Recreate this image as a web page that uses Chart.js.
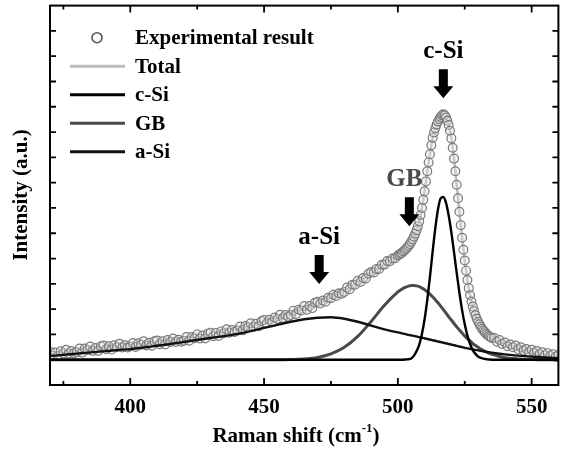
<!DOCTYPE html>
<html><head><meta charset="utf-8">
<script src="https://cdn.jsdelivr.net/npm/chart.js@4.4.1/dist/chart.umd.min.js"></script>
<style>html,body{margin:0;padding:0;background:#fff;}canvas{display:block;}</style>
</head><body>
<canvas id="c" width="564" height="452"></canvas>
<script>
// ---- data (Raman shift in cm^-1, intensity in a.u.) ----
const ramanShiftExp = [
370,371,372,373,374,375,376,377,378,379,380,381,382,383,384,385,386,387,388,389,
390,391,392,393,394,395,396,397,398,399,400,401,402,403,404,405,406,407,408,409,
410,411,412,413,414,415,416,417,418,419,420,421,422,423,424,425,426,427,428,429,
430,431,432,433,434,435,436,437,438,439,440,441,442,443,444,445,446,447,448,449,
450,451,452,453,454,455,456,457,458,459,460,461,462,463,464,465,466,467,468,469,
470,471,472,473,474,475,476,477,478,479,480,481,482,483,484,485,486,487,488,489,
490,491,492,493,494,495,496,497,498,499,500,
500.5,501,501.5,502,502.5,503,503.5,504,504.5,505,
505.5,506,506.5,507,507.5,508,508.5,509,509.5,510,
510.5,511,511.5,512,512.5,513,513.5,514,514.5,515,
515.5,516,516.5,517,517.5,518,518.5,519,519.5,520,
520.5,521,521.5,522,522.5,523,523.5,524,524.5,525,
525.5,526,526.5,527,527.5,528,528.5,529,529.5,530,
530.5,531,531.5,532,532.5,533,533.5,534,534.5,535,
536,537,538,539,540,541,542,543,544,545,546,547,548,549,550,551,552,553,554,555,
556,557,558,559,560];
const intensityExp = [
1.31,1.16,1.28,1.15,1.33,1.25,1.39,1.25,1.34,1.26,
1.30,1.44,1.28,1.44,1.38,1.52,1.35,1.46,1.35,1.53,
1.56,1.41,1.53,1.40,1.57,1.49,1.63,1.48,1.57,1.48,
1.52,1.66,1.50,1.65,1.59,1.73,1.56,1.67,1.55,1.73,
1.76,1.61,1.73,1.60,1.78,1.70,1.84,1.70,1.79,1.71,
1.75,1.90,1.75,1.90,1.85,2.00,1.84,1.96,1.84,2.03,
2.07,1.93,2.06,1.94,2.12,2.05,2.20,2.07,2.17,2.10,
2.15,2.31,2.16,2.33,2.28,2.44,2.29,2.42,2.32,2.52,
2.57,2.44,2.58,2.48,2.67,2.61,2.78,2.65,2.77,2.70,
2.77,2.94,2.81,2.98,2.95,3.12,2.98,3.12,3.04,3.25,
3.29,3.22,3.34,3.29,3.45,3.43,3.57,3.52,3.63,3.61,
3.68,3.85,3.79,3.96,3.96,4.12,4.07,4.23,4.21,4.40,
4.47,4.45,4.59,4.59,4.75,4.76,4.90,4.89,5.00,5.01,5.12,
5.15,5.20,5.22,5.28,5.32,5.38,5.43,5.50,5.57,5.66,
5.75,5.86,5.98,6.12,6.28,6.47,6.72,7.00,7.32,7.66,
8.05,8.45,8.80,9.12,9.48,9.78,9.98,10.15,10.30,10.42,
10.52,10.60,10.66,10.70,10.66,10.58,10.45,10.28,10.05,9.75,
9.38,8.95,8.45,7.92,7.38,6.85,6.32,5.82,5.35,4.92,
4.52,4.15,3.83,3.55,3.30,3.10,2.92,2.76,2.62,2.50,
2.40,2.30,2.22,2.15,2.09,2.03,1.98,1.94,1.90,1.86,
1.86,1.71,1.78,1.62,1.68,1.53,1.60,1.49,1.56,1.41,
1.49,1.36,1.42,1.29,1.39,1.27,1.34,1.21,1.29,1.18,
1.26,1.15,1.22,1.11,1.19];

const ramanShiftFit = [
370,375,380,385,390,395,400,405,410,415,420,425,430,435,440,445,450,455,460,465,470,475,480,485,490,495,500,
501,502,503,504,505,506,507,508,509,510,511,512,513,514,515,516,517,518,519,520,
521,522,523,524,525,526,527,528,529,530,531,532,533,534,535,
540,545,550,555,560];
const totalFit = [
1.22,1.28,1.35,1.41,1.47,1.52,1.57,1.62,1.67,1.73,1.80,1.89,1.98,2.08,2.20,2.33,2.48,2.64,2.82,3.01,3.22,3.45,3.72,4.05,4.42,4.78,5.12,
5.20,5.28,5.38,5.50,5.66,5.86,6.12,6.47,7.00,7.66,8.45,9.12,9.78,10.15,10.42,10.60,10.68,10.58,10.28,9.75,
8.95,7.92,6.85,5.82,4.92,4.15,3.55,3.10,2.76,2.50,2.30,2.15,2.03,1.94,1.86,
1.62,1.46,1.32,1.22,1.14];
const cSiFit = [
1.00,1.00,1.00,1.00,1.00,1.00,1.00,1.00,1.00,1.00,1.00,1.00,1.00,1.00,1.00,1.00,1.00,1.00,1.00,1.00,1.00,1.00,1.00,1.00,1.00,1.00,1.00,
1.00,1.00,1.01,1.02,1.05,1.15,1.34,1.60,2.02,2.60,3.37,4.28,5.27,6.20,6.95,7.38,7.43,7.20,6.70,6.03,
5.24,4.43,3.65,2.96,2.40,1.95,1.62,1.38,1.23,1.13,1.07,1.04,1.02,1.01,1.00,
1.00,1.00,1.00,1.00,1.00];
const gbFit = [
1.00,1.00,1.00,1.00,1.00,1.00,1.00,1.00,1.00,1.00,1.00,1.00,1.00,1.00,1.00,1.00,1.00,1.00,1.01,1.03,1.09,1.23,1.49,1.92,2.51,3.15,3.68,
3.76,3.82,3.87,3.91,3.93,3.93,3.92,3.89,3.83,3.77,3.69,3.59,3.49,3.37,3.25,3.12,2.98,2.84,2.70,2.57,
2.43,2.30,2.17,2.06,1.94,1.83,1.74,1.64,1.56,1.49,1.42,1.36,1.31,1.26,1.22,
1.08,1.03,1.01,1.00,1.00];
const aSiFit = [
1.15,1.19,1.24,1.29,1.33,1.38,1.42,1.48,1.55,1.62,1.70,1.78,1.86,1.93,2.02,2.13,2.26,2.38,2.50,2.60,2.66,2.68,2.62,2.50,2.35,2.20,2.08,
2.06,2.03,2.01,1.98,1.96,1.94,1.92,1.89,1.87,1.85,1.82,1.80,1.77,1.75,1.72,1.70,1.67,1.65,1.62,1.60,
1.57,1.55,1.52,1.50,1.47,1.45,1.43,1.41,1.39,1.37,1.35,1.33,1.31,1.30,1.28,
1.21,1.16,1.12,1.09,1.06];

const xTickValues = [400, 450, 500, 550];
const xMinorTickValues = [375, 425, 475, 525];
const yTickValues = [1,2,3,4,5,6,7,8,9,10,11,12,13,14];
const legendLabels = ['Experimental result', 'Total', 'c-Si', 'GB', 'a-Si'];
const peakLabels = ['c-Si', 'GB', 'a-Si'];
const peakShift = [517, 504.3, 470.6];
const peakArrowTip = [11.34, 6.28, 3.99];
const peakLabelColors = ['#000', '#4a4a4a', '#000'];
const xTitle = 'Raman shift (cm';
const xTitleSup = '-1';
const yTitle = 'Intensity (a.u.)';

const serif = '"Liberation Serif", "Times New Roman", serif';
const pts = (xs, ys) => xs.map((v, i) => ({x: v, y: ys[i]}));

const decor = {
  id: 'decor',
  afterDraw(chart) {
    const {ctx, chartArea: a, scales: {x, y}} = chart;
    ctx.save();
    ctx.strokeStyle = '#000';
    ctx.lineWidth = 2;
    ctx.strokeRect(a.left, a.top, a.right - a.left, a.bottom - a.top);
    ctx.lineWidth = 1.8;
    ctx.beginPath();
    xTickValues.forEach(v => { const p = x.getPixelForValue(v);
      ctx.moveTo(p, a.bottom); ctx.lineTo(p, a.bottom - 7);
      ctx.moveTo(p, a.top); ctx.lineTo(p, a.top + 7); });
    xMinorTickValues.forEach(v => { const p = x.getPixelForValue(v);
      ctx.moveTo(p, a.bottom); ctx.lineTo(p, a.bottom - 4);
      ctx.moveTo(p, a.top); ctx.lineTo(p, a.top + 4); });
    yTickValues.forEach(v => { const p = y.getPixelForValue(v);
      ctx.moveTo(a.left, p); ctx.lineTo(a.left + 6, p);
      ctx.moveTo(a.right, p); ctx.lineTo(a.right - 6, p); });
    ctx.stroke();

    const ds = chart.data.datasets;
    ctx.font = 'bold 21px ' + serif;
    ctx.textBaseline = 'middle';
    ctx.textAlign = 'left';
    legendLabels.forEach((lab, i) => {
      const ly = 37.7 + i * 28.5;
      if (i === 0) {
        ctx.beginPath();
        ctx.arc(97, ly, 5, 0, Math.PI * 2);
        ctx.lineWidth = 1.6; ctx.strokeStyle = '#555'; ctx.fillStyle = '#fff';
        ctx.fill(); ctx.stroke();
      } else {
        ctx.beginPath();
        ctx.moveTo(70, ly); ctx.lineTo(125, ly);
        ctx.lineWidth = 3; ctx.strokeStyle = ds[i].borderColor;
        ctx.stroke();
      }
      ctx.fillStyle = '#000';
      ctx.fillText(lab, 135, ly + 1);
    });

    peakLabels.forEach((lab, i) => {
      const cx = x.getPixelForValue(peakShift[i]);
      const tip = y.getPixelForValue(peakArrowTip[i]);
      ctx.fillStyle = '#000';
      ctx.beginPath();
      ctx.moveTo(cx - 4.5, tip - 29); ctx.lineTo(cx + 4.5, tip - 29);
      ctx.lineTo(cx + 4.5, tip - 12); ctx.lineTo(cx + 10, tip - 12);
      ctx.lineTo(cx, tip); ctx.lineTo(cx - 10, tip - 12);
      ctx.lineTo(cx - 4.5, tip - 12); ctx.closePath();
      ctx.fill();
      ctx.font = 'bold 25px ' + serif;
      ctx.textAlign = 'center';
      ctx.fillStyle = peakLabelColors[i];
      ctx.fillText(lab, cx - (i === 1 ? 5 : 0), tip - 47);
    });

    ctx.fillStyle = '#000';
    ctx.font = 'bold 21px ' + serif;
    const w1 = ctx.measureText(xTitle).width;
    ctx.font = 'bold 13px ' + serif;
    const w2 = ctx.measureText(xTitleSup).width;
    ctx.font = 'bold 21px ' + serif;
    const w3 = ctx.measureText(')').width;
    let sx = 296 - (w1 + w2 + w3) / 2;
    ctx.textAlign = 'left';
    ctx.fillText(xTitle, sx, 437);
    ctx.font = 'bold 13px ' + serif;
    ctx.fillText(xTitleSup, sx + w1, 429);
    ctx.font = 'bold 21px ' + serif;
    ctx.fillText(')', sx + w1 + w2, 437);

    ctx.translate(22, 195);
    ctx.rotate(-Math.PI / 2);
    ctx.textAlign = 'center';
    ctx.fillText(yTitle, 0, 0);
    ctx.restore();
  }
};

new Chart(document.getElementById('c'), {
  type: 'line',
  data: {
    datasets: [
      {label: legendLabels[0], data: pts(ramanShiftExp, intensityExp), showLine: false,
       pointStyle: 'circle', pointRadius: 4.4, pointBorderWidth: 1.2,
       pointBorderColor: '#7a7a7a', pointBackgroundColor: 'rgba(225,225,225,0.35)', order: 4},
      {label: legendLabels[1], data: pts(ramanShiftFit, totalFit), borderColor: '#bdbdbd',
       borderWidth: 2.5, pointRadius: 0, cubicInterpolationMode: 'monotone', order: 5},
      {label: legendLabels[2], data: pts(ramanShiftFit, cSiFit), borderColor: '#000',
       borderWidth: 2.4, pointRadius: 0, cubicInterpolationMode: 'monotone', order: 1},
      {label: legendLabels[3], data: pts(ramanShiftFit, gbFit), borderColor: '#4a4a4a',
       borderWidth: 3, pointRadius: 0, cubicInterpolationMode: 'monotone', order: 3},
      {label: legendLabels[4], data: pts(ramanShiftFit, aSiFit), borderColor: '#111',
       borderWidth: 2.4, pointRadius: 0, cubicInterpolationMode: 'monotone', order: 2}
    ]
  },
  options: {
    responsive: false,
    animation: false,
    devicePixelRatio: 1,
    layout: {padding: {left: 50, right: 2, top: 4.5, bottom: 21.8}},
    plugins: {legend: {display: false}, tooltip: {enabled: false}},
    scales: {
      x: {type: 'linear', min: 370, max: 560,
          afterBuildTicks: s => { s.ticks = xTickValues.map(v => ({value: v})); },
          grid: {display: false, drawTicks: false}, border: {display: false},
          ticks: {color: '#000', padding: 10, maxRotation: 0, autoSkip: false,
                  font: {family: serif, weight: 'bold', size: 21}}},
      y: {type: 'linear', min: 0, max: 15, display: false}
    }
  },
  plugins: [decor]
});
</script>
</body></html>
